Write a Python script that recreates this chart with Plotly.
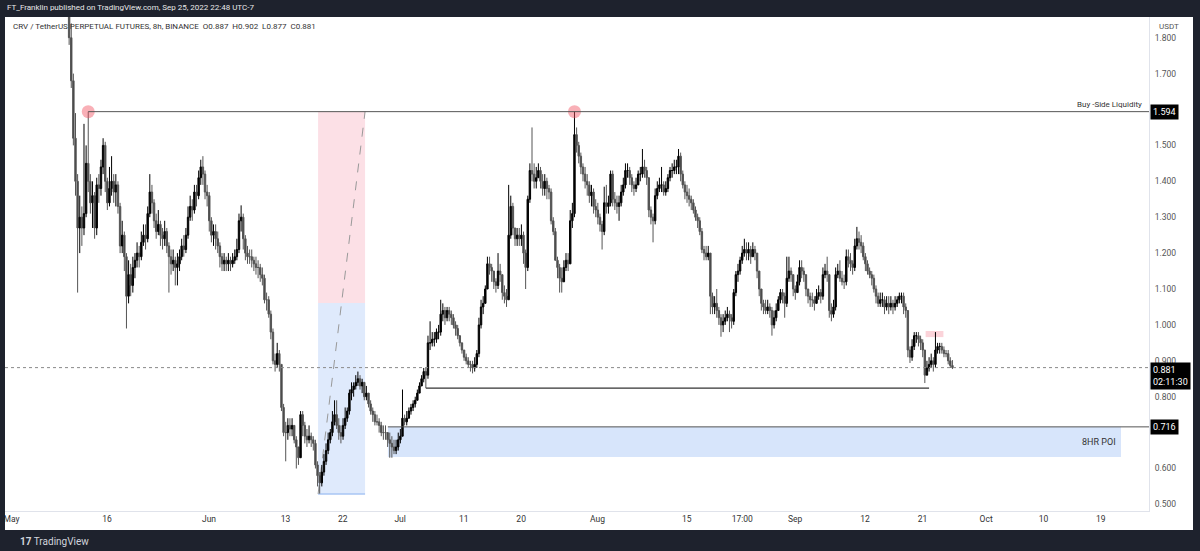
import pandas as pd
import plotly.graph_objects as go

# ---------------- data (8h candles, CRV/USDT perpetual) ----------------
START = "2022-05-10 01:00"
FIRST_OPEN = 1.97
close = [
 1.80,1.68,1.52,1.40,1.27,1.30,1.27,1.31,1.45,1.40,
 1.34,1.36,1.27,1.39,1.38,1.44,1.50,1.40,1.34,1.38,
 1.40,1.37,1.39,1.33,1.22,1.25,1.19,1.08,1.14,1.11,
 1.16,1.18,1.20,1.19,1.23,1.25,1.24,1.31,1.37,1.34,
 1.29,1.26,1.28,1.25,1.24,1.26,1.22,1.19,1.17,1.18,
 1.16,1.17,1.19,1.22,1.21,1.25,1.30,1.33,1.32,1.37,
 1.36,1.41,1.44,1.42,1.37,1.36,1.29,1.25,1.26,1.24,
 1.22,1.19,1.17,1.18,1.17,1.18,1.17,1.18,1.19,1.21,
 1.29,1.30,1.24,1.20,1.19,1.19,1.18,1.17,1.16,1.16,
 1.14,1.13,1.07,1.07,1.03,0.98,0.90,0.89,0.92,0.89,
 0.77,0.70,0.70,0.72,0.71,0.72,0.68,0.66,0.63,0.75,
 0.72,0.69,0.68,0.69,0.68,0.67,0.61,0.58,0.56,0.59,
 0.62,0.65,0.68,0.70,0.73,0.75,0.72,0.70,0.69,0.72,
 0.74,0.76,0.81,0.82,0.83,0.84,0.85,0.83,0.84,0.80,
 0.81,0.78,0.76,0.75,0.73,0.73,0.72,0.70,0.70,0.70,
 0.68,0.67,0.66,0.65,0.66,0.68,0.69,0.74,0.73,0.74,
 0.76,0.77,0.78,0.79,0.81,0.83,0.85,0.87,0.86,0.95,
 0.95,0.96,0.96,0.98,0.98,1.03,1.04,1.02,1.04,1.03,
 1.02,1.00,0.99,0.97,0.95,0.93,0.91,0.90,0.89,0.89,
 0.88,0.89,0.92,1.00,1.05,1.06,1.10,1.17,1.16,1.15,
 1.12,1.11,1.15,1.14,1.09,1.08,1.07,1.25,1.33,1.27,
 1.24,1.25,1.24,1.25,1.20,1.16,1.35,1.43,1.42,1.40,
 1.41,1.43,1.40,1.38,1.40,1.38,1.37,1.29,1.26,1.18,
 1.16,1.13,1.12,1.16,1.18,1.17,1.29,1.31,1.53,1.50,
 1.47,1.44,1.42,1.40,1.39,1.36,1.37,1.33,1.32,1.30,
 1.28,1.26,1.34,1.33,1.34,1.42,1.35,1.34,1.33,1.34,
 1.37,1.39,1.43,1.43,1.41,1.39,1.38,1.39,1.42,1.42,
 1.44,1.43,1.41,1.32,1.30,1.29,1.36,1.38,1.39,1.39,
 1.37,1.38,1.41,1.43,1.43,1.44,1.44,1.47,1.42,1.39,
 1.37,1.36,1.35,1.34,1.32,1.30,1.29,1.26,1.21,1.20,
 1.19,1.20,1.08,1.05,1.06,1.04,1.02,1.00,1.01,1.02,
 1.03,1.02,1.01,1.09,1.14,1.15,1.18,1.20,1.21,1.20,
 1.21,1.19,1.21,1.20,1.15,1.10,1.06,1.05,1.04,1.05,
 1.04,1.00,1.02,1.04,1.07,1.09,1.08,1.06,1.13,1.15,
 1.14,1.10,1.09,1.12,1.16,1.15,1.14,1.10,1.08,1.07,
 1.07,1.06,1.08,1.09,1.08,1.14,1.15,1.14,1.04,1.03,
 1.05,1.14,1.15,1.13,1.12,1.12,1.19,1.18,1.17,1.16,
 1.22,1.24,1.23,1.22,1.19,1.17,1.15,1.14,1.13,1.10,
 1.08,1.06,1.07,1.07,1.05,1.06,1.05,1.06,1.05,1.06,
 1.07,1.08,1.08,1.05,1.04,0.93,0.91,0.94,0.97,0.97,
 0.96,0.95,0.93,0.86,0.88,0.89,0.90,0.89,0.93,0.94,
 0.94,0.93,0.92,0.92,0.90,0.887,0.881,
]
high = [
 2.00,1.84,1.70,1.59,1.42,1.36,1.33,1.56,1.50,1.594,
 1.42,1.40,1.37,1.41,1.42,1.46,1.52,1.51,1.41,1.44,
 1.47,1.42,1.42,1.40,1.34,1.29,1.26,1.20,1.18,1.17,
 1.19,1.20,1.23,1.22,1.26,1.28,1.28,1.33,1.42,1.39,
 1.35,1.31,1.32,1.29,1.27,1.29,1.27,1.23,1.21,1.21,
 1.19,1.20,1.21,1.24,1.25,1.27,1.33,1.36,1.35,1.39,
 1.39,1.43,1.46,1.47,1.43,1.39,1.37,1.30,1.28,1.28,
 1.26,1.23,1.20,1.20,1.19,1.20,1.19,1.20,1.21,1.24,
 1.31,1.333,1.31,1.25,1.22,1.21,1.21,1.19,1.19,1.18,
 1.17,1.16,1.14,1.09,1.08,1.04,0.99,0.92,0.95,0.93,
 0.89,0.78,0.73,0.74,0.74,0.74,0.72,0.69,0.66,0.76,
 0.76,0.73,0.71,0.72,0.70,0.69,0.68,0.62,0.59,0.61,
 0.64,0.67,0.70,0.71,0.76,0.79,0.79,0.74,0.72,0.74,
 0.77,0.77,0.82,0.84,0.84,0.86,0.87,0.86,0.85,0.84,
 0.83,0.81,0.79,0.77,0.76,0.75,0.74,0.73,0.72,0.72,
 0.70,0.70,0.69,0.68,0.68,0.70,0.71,0.82,0.75,0.76,
 0.77,0.78,0.79,0.80,0.82,0.84,0.86,0.88,0.88,0.97,
 1.01,0.98,0.98,0.99,1.00,1.07,1.06,1.05,1.05,1.05,
 1.04,1.03,1.01,1.00,0.97,0.95,0.93,0.92,0.91,0.90,
 0.90,0.91,0.93,1.02,1.07,1.08,1.11,1.19,1.19,1.17,
 1.15,1.13,1.20,1.17,1.14,1.11,1.10,1.39,1.36,1.34,
 1.27,1.27,1.27,1.28,1.26,1.21,1.36,1.45,1.55,1.45,
 1.44,1.45,1.44,1.42,1.42,1.41,1.39,1.38,1.30,1.27,
 1.19,1.17,1.16,1.18,1.20,1.20,1.32,1.34,1.594,1.55,
 1.51,1.48,1.45,1.44,1.42,1.40,1.39,1.38,1.35,1.34,
 1.31,1.29,1.385,1.39,1.36,1.43,1.43,1.37,1.36,1.36,
 1.39,1.41,1.45,1.45,1.44,1.42,1.40,1.41,1.43,1.44,
 1.49,1.46,1.44,1.41,1.33,1.31,1.38,1.40,1.41,1.44,
 1.40,1.40,1.42,1.44,1.45,1.46,1.46,1.49,1.48,1.43,
 1.40,1.39,1.38,1.36,1.35,1.33,1.31,1.30,1.27,1.22,
 1.22,1.22,1.20,1.09,1.08,1.10,1.05,1.03,1.03,1.04,
 1.05,1.04,1.03,1.10,1.15,1.17,1.19,1.22,1.24,1.23,
 1.23,1.22,1.23,1.22,1.20,1.15,1.10,1.07,1.07,1.07,
 1.06,1.05,1.04,1.06,1.08,1.10,1.10,1.09,1.19,1.19,
 1.16,1.14,1.11,1.14,1.18,1.18,1.16,1.14,1.10,1.09,
 1.09,1.08,1.10,1.11,1.10,1.16,1.17,1.19,1.14,1.06,
 1.07,1.16,1.17,1.18,1.15,1.14,1.21,1.21,1.20,1.18,
 1.24,1.273,1.26,1.25,1.23,1.20,1.18,1.16,1.15,1.14,
 1.11,1.09,1.09,1.09,1.08,1.08,1.08,1.08,1.07,1.08,
 1.08,1.09,1.09,1.09,1.06,1.04,0.94,0.96,0.98,0.98,
 0.98,0.97,0.96,0.93,0.90,0.91,0.92,0.91,0.98,0.95,
 0.95,0.95,0.94,0.93,0.93,0.91,0.902,
]
low = [
 1.78,1.66,1.50,1.36,1.09,1.20,1.22,1.25,1.30,1.37,
 1.31,1.27,1.24,1.25,1.34,1.36,1.42,1.37,1.32,1.33,
 1.36,1.34,1.33,1.31,1.20,1.20,1.15,0.99,1.06,1.08,
 1.09,1.13,1.16,1.16,1.18,1.22,1.21,1.23,1.30,1.31,
 1.27,1.24,1.25,1.22,1.21,1.22,1.20,1.09,1.14,1.15,
 1.11,1.11,1.15,1.18,1.19,1.20,1.24,1.29,1.29,1.31,
 1.33,1.35,1.39,1.39,1.35,1.33,1.26,1.23,1.22,1.21,
 1.20,1.16,1.15,1.15,1.15,1.15,1.15,1.16,1.17,1.18,
 1.20,1.26,1.21,1.18,1.17,1.17,1.16,1.15,1.14,1.13,
 1.12,1.11,1.06,1.04,1.02,0.96,0.89,0.87,0.88,0.87,
 0.76,0.69,0.62,0.68,0.69,0.69,0.67,0.60,0.61,0.63,
 0.69,0.67,0.66,0.67,0.66,0.65,0.60,0.55,0.53,0.55,
 0.58,0.61,0.64,0.67,0.69,0.72,0.71,0.68,0.67,0.68,
 0.71,0.73,0.75,0.79,0.80,0.82,0.83,0.82,0.81,0.79,
 0.79,0.77,0.75,0.73,0.72,0.72,0.70,0.69,0.68,0.68,
 0.66,0.63,0.63,0.64,0.64,0.65,0.67,0.69,0.72,0.72,
 0.74,0.75,0.76,0.77,0.79,0.81,0.83,0.84,0.824,0.85,
 0.93,0.94,0.94,0.95,0.96,0.97,1.01,1.00,1.01,1.01,
 1.00,0.99,0.97,0.96,0.94,0.92,0.90,0.89,0.88,0.87,
 0.865,0.87,0.88,0.91,0.99,1.03,1.06,1.10,1.14,1.12,
 1.10,1.09,1.10,1.12,1.07,1.06,1.05,1.07,1.24,1.25,
 1.22,1.22,1.22,1.22,1.17,1.10,1.15,1.34,1.40,1.38,
 1.38,1.41,1.38,1.36,1.36,1.35,1.35,1.28,1.25,1.18,
 1.13,1.09,1.09,1.12,1.15,1.15,1.17,1.27,1.30,1.48,
 1.45,1.42,1.40,1.38,1.36,1.34,1.33,1.31,1.30,1.28,
 1.26,1.21,1.25,1.31,1.31,1.33,1.33,1.32,1.31,1.29,
 1.33,1.36,1.38,1.41,1.39,1.37,1.36,1.37,1.39,1.40,
 1.41,1.41,1.39,1.30,1.28,1.23,1.28,1.35,1.37,1.37,
 1.36,1.36,1.37,1.40,1.41,1.42,1.42,1.42,1.40,1.38,
 1.35,1.34,1.33,1.32,1.31,1.29,1.27,1.25,1.20,1.18,
 1.18,1.18,1.03,1.03,1.03,1.02,1.00,0.967,0.98,1.00,
 1.01,0.98,0.99,1.00,1.08,1.12,1.14,1.17,1.19,1.18,
 1.18,1.17,1.19,1.18,1.13,1.08,1.04,1.03,1.03,1.03,
 1.02,0.97,0.99,1.01,1.04,1.06,1.06,1.02,1.05,1.12,
 1.12,1.08,1.07,1.09,1.11,1.13,1.12,1.08,1.06,1.05,
 1.05,1.04,1.06,1.07,1.06,1.07,1.13,1.12,1.02,1.01,
 1.02,1.04,1.13,1.12,1.11,1.10,1.11,1.16,1.15,1.14,
 1.15,1.21,1.21,1.20,1.18,1.15,1.14,1.13,1.11,1.09,
 1.06,1.05,1.05,1.05,1.03,1.04,1.03,1.04,1.03,1.04,
 1.05,1.06,1.06,1.03,1.02,0.91,0.894,0.90,0.93,0.95,
 0.94,0.93,0.91,0.838,0.86,0.87,0.88,0.87,0.88,0.92,
 0.92,0.92,0.91,0.91,0.89,0.88,0.877,
]

# drawings / levels
BSL_LEVEL = 1.594
BSL_START = "2022-05-13 01:00"
SWEEP_TIME = "2022-07-28 09:00"
LONG_T0, LONG_T1 = "2022-06-18 03:00", "2022-06-25 12:00"
LONG_TOP, LONG_MID, LONG_BOT = 1.594, 1.061, 0.529
LOW_LEVEL, LOW_T0, LOW_T1 = 0.824, "2022-07-05 01:00", "2022-09-22 01:00"
POI_TOP, POI_BOT, POI_T0, POI_T1 = 0.716, 0.632, "2022-06-29 02:00", "2022-10-22 04:00"
SMALL_T0, SMALL_T1, SMALL_TOP, SMALL_BOT = "2022-09-21 12:00", "2022-09-24 07:00", 0.983, 0.966
LAST_PRICE = 0.881
Y_TICKS = [0.5,0.6,0.8,0.9,1.0,1.1,1.2,1.3,1.4,1.5,1.7,1.8]
X_TICKS = ["2022-05-01","2022-05-16","2022-06-01","2022-06-13","2022-06-22","2022-07-01",
           "2022-07-11","2022-07-20","2022-08-01","2022-08-15","2022-08-23 17:00","2022-09-01",
           "2022-09-12","2022-09-21","2022-10-01","2022-10-10","2022-10-19"]
X_LABELS = ["May","16","Jun","13","22","Jul","11","20","Aug","15","17:00","Sep","12","21","Oct","10","19"]

# ---------------- build ----------------
n = min(len(close), len(high), len(low))
close, high, low = close[:n], high[:n], low[:n]
times = pd.date_range(START, periods=n, freq="8h")
opens = [FIRST_OPEN] + close[:-1]
hi = [max(h, o, c) for h, o, c in zip(high, opens, close)]
lo = [min(l, o, c) for l, o, c in zip(low, opens, close)]

W, H = 1200, 551
PL, PR, PT, PB = 5, 1149, 17, 511   # plot area in pixels
def px(x): return (x - PL) / (PR - PL)
def py(y): return (PB - y) / (PB - PT)

JUN1 = pd.Timestamp("2022-06-01")
PXDAY = 6.37
xr = [JUN1 + pd.Timedelta(days=(PL - 209) / PXDAY), JUN1 + pd.Timedelta(days=(PR - 209) / PXDAY)]
ytop = 1.8 + (37.7 - PT) / 359.0
ybot = 1.8 - (PB - 37.7) / 359.0

fig = go.Figure()
fig.add_trace(go.Candlestick(
    x=times, open=opens, high=hi, low=lo, close=close,
    increasing=dict(line=dict(color="#000000", width=1), fillcolor="#000000"),
    decreasing=dict(line=dict(color="#555555", width=1), fillcolor="#444444"),
    whiskerwidth=0, showlegend=False, hoverinfo="skip"))

shapes = []
shapes.append(dict(type="rect", xref="x", yref="y", x0=LONG_T0, x1=LONG_T1, y0=LONG_MID, y1=LONG_TOP,
                   fillcolor="#fce0e6", line=dict(width=0), layer="below"))
shapes.append(dict(type="rect", xref="x", yref="y", x0=LONG_T0, x1=LONG_T1, y0=LONG_BOT, y1=LONG_MID,
                   fillcolor="#dfeafc", line=dict(width=0), layer="below"))
shapes.append(dict(type="line", xref="x", yref="y", x0=LONG_T0, x1=LONG_T1, y0=LONG_BOT, y1=LONG_BOT,
                   line=dict(color="#a9c6f5", width=1.5), layer="below"))
shapes.append(dict(type="line", xref="x", yref="y", x0=LONG_T0, x1=LONG_T1, y0=LONG_BOT, y1=LONG_TOP,
                   line=dict(color="#999999", width=1, dash="dash"), layer="below"))
shapes.append(dict(type="rect", xref="x", yref="y", x0=POI_T0, x1=POI_T1, y0=POI_BOT, y1=POI_TOP,
                   fillcolor="#d7e5fb", line=dict(width=0), layer="below"))
shapes.append(dict(type="line", xref="x", yref="y", x0=POI_T0, x1=xr[1], y0=POI_TOP, y1=POI_TOP,
                   line=dict(color="#555555", width=1)))
shapes.append(dict(type="rect", xref="x", yref="y", x0=SMALL_T0, x1=SMALL_T1, y0=SMALL_BOT, y1=SMALL_TOP,
                   fillcolor="#fbd3d9", line=dict(width=0), layer="below"))
shapes.append(dict(type="line", xref="x", yref="y", x0=BSL_START, x1=xr[1], y0=BSL_LEVEL, y1=BSL_LEVEL,
                   line=dict(color="#555555", width=1)))
shapes.append(dict(type="line", xref="x", yref="y", x0=LOW_T0, x1=LOW_T1, y0=LOW_LEVEL, y1=LOW_LEVEL,
                   line=dict(color="#333333", width=1.2)))
shapes.append(dict(type="line", xref="paper", yref="y", x0=0, x1=1, y0=LAST_PRICE, y1=LAST_PRICE,
                   line=dict(color="#8a8a8a", width=1, dash="dot")))
DARK = "#1e222d"
shapes += [
    dict(type="rect", xref="paper", yref="paper", x0=px(0), x1=px(W), y0=py(PT), y1=py(0),
         fillcolor=DARK, line=dict(width=0), layer="above"),
    dict(type="rect", xref="paper", yref="paper", x0=px(0), x1=px(W), y0=py(H), y1=py(530),
         fillcolor=DARK, line=dict(width=0), layer="above"),
    dict(type="rect", xref="paper", yref="paper", x0=px(0), x1=px(PL), y0=py(H), y1=py(0),
         fillcolor=DARK, line=dict(width=0), layer="above"),
    dict(type="rect", xref="paper", yref="paper", x0=px(1193), x1=px(W), y0=py(H), y1=py(0),
         fillcolor=DARK, line=dict(width=0), layer="above"),
]

fig.add_trace(go.Scatter(x=[BSL_START, SWEEP_TIME], y=[BSL_LEVEL, BSL_LEVEL], mode="markers",
                         marker=dict(size=13, color="rgba(242,80,95,0.45)", line=dict(width=0)),
                         showlegend=False, hoverinfo="skip"))

FONT = "Roboto, 'Open Sans', sans-serif"
ann = []
ann.append(dict(xref="paper", yref="paper", x=px(5), y=py(8), xanchor="left", yanchor="middle",
                text="FT_Franklin published on TradingView.com, Sep 25, 2022 22:48 UTC-7",
                showarrow=False, font=dict(family=FONT, size=8, color="#e8e8e8")))
ann.append(dict(xref="paper", yref="paper", x=px(11), y=py(27), xanchor="left", yanchor="middle",
                text="CRV / TetherUS PERPETUAL FUTURES, 8h, BINANCE  O0.887  H0.902  L0.877  C0.881",
                showarrow=False, font=dict(family=FONT, size=8, color="#333333")))
ann.append(dict(xref="paper", yref="y", x=px(1144), y=BSL_LEVEL, xanchor="right", yanchor="bottom",
                yshift=1, text="Buy -Side Liquidity", showarrow=False,
                font=dict(family=FONT, size=8, color="#333333")))
ann.append(dict(xref="paper", yref="y", x=px(1118), y=(POI_TOP + POI_BOT) / 2, xanchor="right",
                yanchor="middle", text="8HR POI", showarrow=False,
                font=dict(family=FONT, size=9, color="#333333")))
ann.append(dict(xref="paper", yref="paper", x=px(1157), y=py(26), xanchor="left", yanchor="middle",
                text="USDT", showarrow=False, font=dict(family=FONT, size=8, color="#555555")))
for lvl, txt in [(BSL_LEVEL, "1.594"), (POI_TOP, "0.716")]:
    ann.append(dict(xref="paper", yref="y", x=px(1150), y=lvl, xanchor="left", yanchor="middle",
                    text=txt, showarrow=False, bgcolor="#000000", borderpad=2,
                    font=dict(family=FONT, size=9, color="#ffffff")))
ann.append(dict(xref="paper", yref="y", x=px(1150), y=LAST_PRICE, xanchor="left", yanchor="top",
                yshift=6, text="0.881   <br>02:11:30", align="left", showarrow=False,
                bgcolor="#000000", borderpad=2, font=dict(family=FONT, size=9, color="#ffffff")))
ann.append(dict(xref="paper", yref="paper", x=px(18), y=py(541), xanchor="left", yanchor="middle",
                text="<b>17</b> TradingView", showarrow=False,
                font=dict(family=FONT, size=10, color="#d1d4dc")))

fig.update_layout(
    width=W, height=H, margin=dict(l=PL, r=W - PR, t=PT, b=H - PB),
    paper_bgcolor="#ffffff", plot_bgcolor="#ffffff", boxgap=0.05,
    shapes=shapes, annotations=ann, showlegend=False,
    xaxis=dict(range=xr, type="date", rangeslider=dict(visible=False), showgrid=False,
               tickvals=X_TICKS, ticktext=X_LABELS, ticks="", showline=True, linecolor="#e0e3eb",
               tickfont=dict(family=FONT, size=8.5, color="#333333"), zeroline=False),
    yaxis=dict(range=[ybot, ytop], side="right", showgrid=False, tickvals=Y_TICKS,
               ticktext=["%.3f" % v for v in Y_TICKS], ticks="", showline=True, linecolor="#e0e3eb",
               ticklabelstandoff=3,
               tickfont=dict(family=FONT, size=8.5, color="#555555"), zeroline=False),
)
fig.write_html("out.html")
